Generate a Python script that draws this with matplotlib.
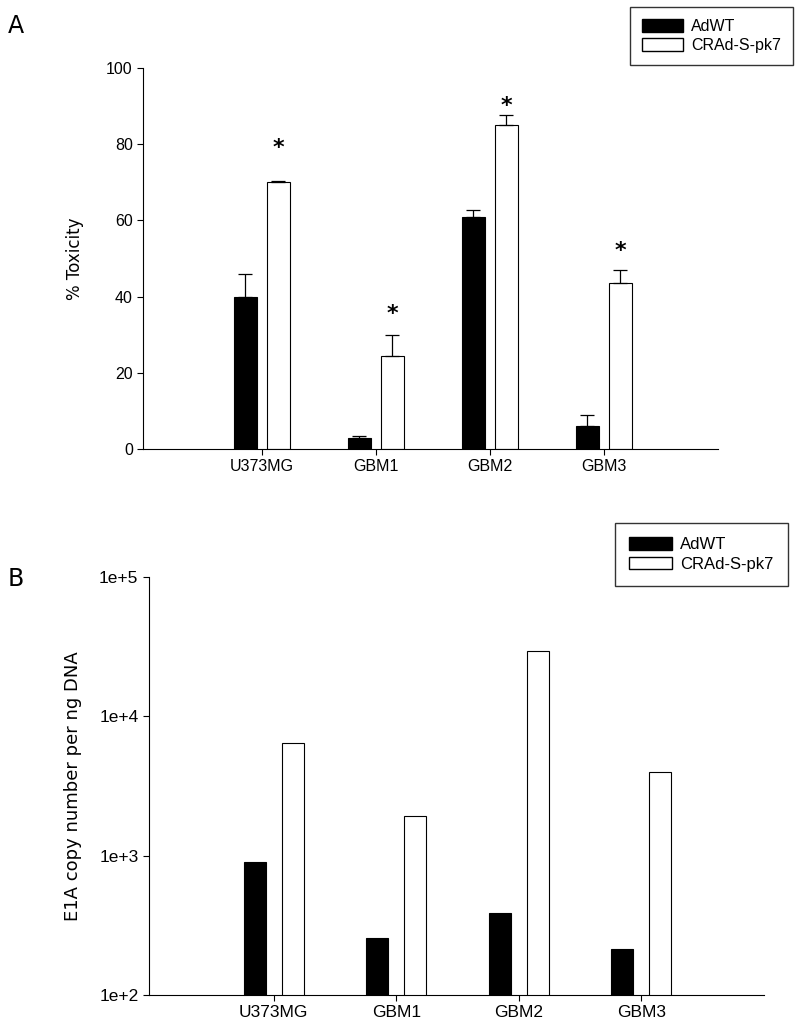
import matplotlib
matplotlib.use("Agg")
import matplotlib.pyplot as plt
import matplotlib.patches as mpatches
import numpy as np

plt.rcParams["font.family"] = ["Liberation Sans", "DejaVu Sans"]

# Data
cells = ["U373MG", "GBM1", "GBM2", "GBM3"]
series = ["AdWT", "CRAd-S-pk7"]

tox_adwt = [40, 3, 61, 6]
tox_adwt_err = [6, 0.3, 1.8, 3]
tox_crad = [70, 24.3, 85, 43.6]
tox_crad_err = [0.3, 5.5, 2.7, 3.4]
# where the significance stars sit (value units)
star_y = [79, 35.5, 90, 52]

e1a_adwt = [900, 255, 390, 215]
e1a_crad = [6400, 1940, 29300, 4000]

x = np.arange(len(cells))

fig = plt.figure(figsize=(8, 10.27), dpi=100)

# ---- Panel A ----
axA = fig.add_axes([0.179, 0.5628, 0.7185, 0.371])
w = 0.2
off = 0.145
axA.bar(x - off, tox_adwt, w, color="black", edgecolor="black", lw=0.8)
axA.bar(x + off, tox_crad, w, color="white", edgecolor="black", lw=0.8)
axA.errorbar(x - off, tox_adwt, yerr=[np.zeros(4), tox_adwt_err], fmt="none",
             ecolor="black", elinewidth=0.9, capsize=5, capthick=0.9)
axA.errorbar(x + off, tox_crad, yerr=[np.zeros(4), tox_crad_err], fmt="none",
             ecolor="black", elinewidth=0.9, capsize=5, capthick=0.9)
for i in range(len(cells)):
    axA.text(x[i] + off, star_y[i], "*", ha="center", va="center",
             fontsize=16, fontweight="bold", family="DejaVu Sans")
axA.set_ylim(0, 100)
axA.set_xlim(-1.04, 4.0)
axA.set_yticks([0, 20, 40, 60, 80, 100])
axA.set_xticks(x)
axA.set_xticklabels(cells)
axA.set_ylabel("% Toxicity", fontsize=12, labelpad=16, family="DejaVu Sans")
axA.spines["top"].set_visible(False)
axA.spines["right"].set_visible(False)
axA.tick_params(direction="out", length=4, labelsize=11.5)
handles = [mpatches.Patch(facecolor="black", edgecolor="black", label=series[0]),
           mpatches.Patch(facecolor="white", edgecolor="black", label=series[1])]
legA = fig.legend(handles=handles, loc="upper right", bbox_to_anchor=(793 / 800, 1 - 7 / 1027),
                  fontsize=11.5, frameon=True, fancybox=False, edgecolor="black",
                  handlelength=2.6, handleheight=0.8, borderpad=0.75, labelspacing=0.25,
                  handletextpad=0.5, borderaxespad=0)
legA.get_frame().set_linewidth(1.0)
fig.text(0.01, 0.975, "A", fontsize=17, va="center", family="DejaVu Sans")

# ---- Panel B ----
axB = fig.add_axes([0.186, 0.0312, 0.769, 0.407])
wb = 0.18
offb = 0.155
axB.bar(x - offb, e1a_adwt, wb, color="black", edgecolor="black", lw=0.8)
axB.bar(x + offb, e1a_crad, wb, color="white", edgecolor="black", lw=0.8)
axB.set_yscale("log")
axB.set_ylim(100, 100000)
axB.set_xlim(-1.02, 4.0)
axB.set_yticks([1e2, 1e3, 1e4, 1e5])
axB.set_yticklabels(["1e+2", "1e+3", "1e+4", "1e+5"])
axB.minorticks_off()
axB.set_xticks(x)
axB.set_xticklabels(cells)
axB.set_ylabel("E1A copy number per ng DNA", fontsize=13, labelpad=12, family="DejaVu Sans")
axB.spines["top"].set_visible(False)
axB.spines["right"].set_visible(False)
axB.tick_params(direction="out", length=4, labelsize=12.5)
legB = fig.legend(handles=handles, loc="upper right", bbox_to_anchor=(788 / 800, 1 - 523 / 1027),
                  fontsize=12, frameon=True, fancybox=False, edgecolor="black",
                  handlelength=2.6, handleheight=0.8, borderpad=0.85, labelspacing=0.25,
                  handletextpad=0.5, borderaxespad=0)
legB.get_frame().set_linewidth(1.0)
fig.text(0.01, 0.436, "B", fontsize=17, va="center", family="DejaVu Sans")

fig.savefig("out.png", dpi=100, facecolor="white")
